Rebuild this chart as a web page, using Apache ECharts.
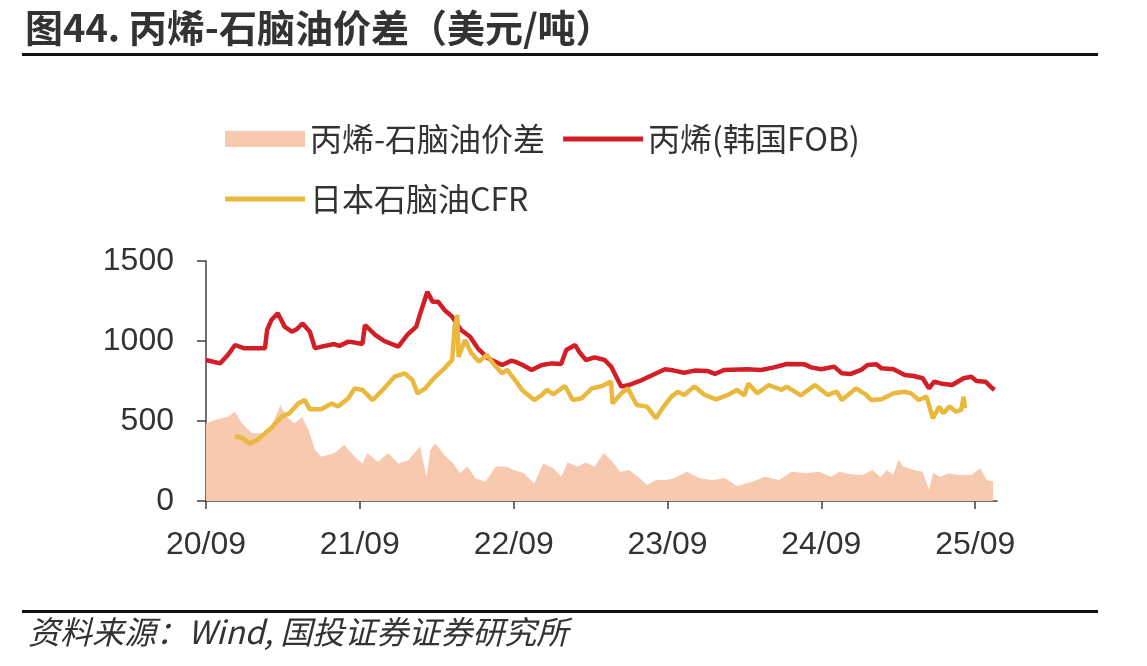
<!DOCTYPE html>
<html>
<head>
<meta charset="utf-8">
<script src="https://cdn.jsdelivr.net/npm/echarts@6/dist/echarts.min.js"></script>
<style>
html, body { margin: 0; padding: 0; background: #ffffff; }
#main { width: 1147px; height: 666px; }
</style>
</head>
<body>
<div id="main"></div>
<script>
// 丙烯(韩国FOB)
var propDates = ['2020-09-01','2020-10-04','2020-10-22','2020-11-09','2020-12-01','2021-01-19','2021-01-24','2021-02-04','2021-02-19','2021-03-05',
	'2021-03-22','2021-04-04','2021-04-17','2021-05-04','2021-05-16','2021-06-01','2021-07-01','2021-07-13','2021-08-04','2021-08-19',
	'2021-09-07','2021-09-13','2021-10-07','2021-10-28','2021-12-01','2021-12-22','2022-01-13','2022-01-25','2022-02-09','2022-02-21',
	'2022-03-04','2022-03-19','2022-04-07','2022-04-28','2022-05-19','2022-06-07','2022-07-01','2022-08-04','2022-08-25','2022-09-04',
	'2022-09-22','2022-10-13','2022-11-07','2022-12-01','2022-12-22','2023-01-04','2023-01-25','2023-02-04','2023-02-20','2023-03-10',
	'2023-04-04','2023-04-19','2023-05-01','2023-05-13','2023-06-01','2023-07-01','2023-08-01','2023-08-25','2023-09-16','2023-10-10',
	'2023-11-04','2023-12-04','2023-12-22','2024-01-13','2024-03-07','2024-04-10','2024-05-10','2024-06-10','2024-07-22','2024-08-07',
	'2024-09-01','2024-10-01','2024-10-19','2024-11-10','2024-12-04','2024-12-19','2025-01-10','2025-01-22','2025-02-20','2025-03-16',
	'2025-04-07','2025-04-28','2025-05-13','2025-05-25','2025-06-10','2025-07-07','2025-08-04','2025-08-22','2025-09-04','2025-09-25',
	'2025-10-07','2025-10-16'];
var propVals = [881,860,912,975,954,954,1069,1131,1173,1090,
	1058,1075,1110,1058,954,965,981,969,996,990,
	981,1100,1038,1000,965,1038,1090,1194,1308,1246,
	1246,1194,1152,1069,1027,954,892,850,877,871,
	850,819,850,860,856,944,975,933,881,898,
	881,840,777,715,725,756,794,823,815,802,
	815,813,794,819,823,819,835,856,854,835,
	823,840,798,794,819,850,854,829,823,788,
	781,767,704,746,735,725,767,777,750,746,
	715,694];

// 日本石脑油CFR
var naphDates = ['2020-11-09','2020-11-25','2020-12-13','2021-01-01','2021-01-19','2021-02-07','2021-02-28','2021-03-16','2021-04-07','2021-04-22',
	'2021-05-04','2021-06-01','2021-06-25','2021-07-10','2021-08-04','2021-08-19','2021-09-07','2021-10-01','2021-10-28','2021-11-22',
	'2021-12-16','2022-01-04','2022-01-16','2022-02-04','2022-02-24','2022-03-19','2022-04-07','2022-04-13','2022-04-19','2022-04-22',
	'2022-05-07','2022-05-22','2022-06-10','2022-06-28','2022-07-16','2022-08-04','2022-08-16','2022-09-04','2022-09-22','2022-10-19',
	'2022-11-07','2022-11-19','2022-12-04','2023-01-01','2023-01-19','2023-02-10','2023-03-04','2023-03-28','2023-04-19','2023-04-22',
	'2023-05-13','2023-05-28','2023-06-19','2023-07-13','2023-08-04','2023-08-19','2023-09-10','2023-09-25','2023-10-10','2023-11-04',
	'2023-11-28','2023-12-25','2024-01-22','2024-02-13','2024-03-01','2024-03-10','2024-04-01','2024-04-28','2024-05-28','2024-06-10',
	'2024-07-13','2024-08-16','2024-09-16','2024-10-07','2024-10-19','2024-11-22','2024-12-16','2024-12-28','2025-01-22','2025-02-20',
	'2025-03-16','2025-04-01','2025-04-19','2025-05-07','2025-05-22','2025-06-07','2025-06-16','2025-07-01','2025-07-16','2025-07-28',
	'2025-08-04','2025-08-07'];
var naphVals = [406,394,360,381,423,465,527,548,610,631,
	573,573,610,590,642,704,694,631,704,777,
	798,756,673,704,767,829,881,1090,1163,900,
	1006,923,871,913,850,798,819,756,690,631,
	663,694,667,719,631,642,704,719,746,610,
	673,704,600,590,517,579,652,683,663,715,
	663,635,663,694,660,735,673,725,694,715,
	660,725,663,683,631,704,663,631,636,673,
	683,673,631,652,517,590,548,590,558,569,
	652,579];

// 丙烯-石脑油价差
var spreadDates = ['2020-09-01','2020-09-22','2020-10-22','2020-11-09','2020-11-25','2020-12-19','2021-01-13','2021-02-04','2021-02-25','2021-03-10',
	'2021-03-28','2021-04-16','2021-05-04','2021-05-16','2021-06-01','2021-07-01','2021-07-25','2021-08-19','2021-09-07','2021-09-19',
	'2021-10-13','2021-11-07','2021-12-01','2021-12-25','2022-01-22','2022-02-07','2022-02-16','2022-02-28','2022-03-22','2022-04-10',
	'2022-04-25','2022-05-13','2022-06-01','2022-06-25','2022-07-19','2022-08-13','2022-09-04','2022-09-25','2022-10-19','2022-11-10',
	'2022-12-04','2022-12-22','2023-01-07','2023-02-01','2023-02-19','2023-03-10','2023-04-01','2023-04-19','2023-05-10','2023-06-01',
	'2023-06-22','2023-07-13','2023-08-04','2023-08-28','2023-09-16','2023-10-16','2023-11-16','2023-12-16','2024-01-16','2024-02-13',
	'2024-03-19','2024-04-19','2024-05-22','2024-06-22','2024-07-25','2024-08-25','2024-09-25','2024-10-13','2024-11-07','2024-12-07',
	'2025-01-01','2025-01-19','2025-02-04','2025-02-19','2025-03-01','2025-03-13','2025-04-07','2025-04-28','2025-05-13','2025-05-22',
	'2025-06-10','2025-06-28','2025-07-22','2025-08-22','2025-09-13','2025-09-28','2025-10-13'];
var spreadVals = [485,506,527,558,485,423,423,465,600,527,
	485,527,423,319,277,298,350,277,235,298,
	246,298,235,256,340,152,319,360,277,235,
	173,215,142,121,215,215,190,173,110,235,
	204,152,240,215,240,215,298,256,183,194,
	152,100,131,131,142,183,142,131,142,94,
	121,152,131,183,173,183,152,183,169,163,
	194,148,194,163,256,215,194,183,69,173,
	152,173,163,163,204,131,121];

var yTicks = [0, 500, 1000, 1500];
var xYearLabels = ['20/09', '21/09', '22/09', '23/09', '24/09', '25/09'];

// months since 2020-09-01
function toM(s) {
	var p = s.split('-');
	return (parseInt(p[0]) - 2020) * 12 + (parseInt(p[1]) - 9) + (parseInt(p[2]) - 1) / 30;
}
function pairs(dates, vals) {
	return dates.map(function (d, i) { return [toM(d), vals[i]]; });
}

var myChart = echarts.init(document.getElementById('main'));

var labelFont = 'Liberation Sans';
var cjkFont = 'Noto Sans CJK SC';
// flat bar used as legend icon for the two lines
var lineIcon = 'path://M0,0 L80,0 L80,5 L0,5 Z';

var option = {
	backgroundColor: '#ffffff',
	animation: false,
	title: {
		text: '图44. 丙烯-石脑油价差（美元/吨）',
		left: 20,
		top: 4,
		textStyle: { fontSize: 38, fontWeight: 'bold', color: '#333333', fontFamily: cjkFont }
	},
	legend: [{
		left: 220,
		top: 118,
		itemWidth: 80,
		itemHeight: 16,
		itemGap: 18,
		data: [{ name: '丙烯-石脑油价差', icon: 'rect' }, { name: '丙烯(韩国FOB)', icon: lineIcon }],
		textStyle: { fontSize: 32, color: '#333333', fontFamily: cjkFont }
	}, {
		left: 220,
		top: 178,
		itemWidth: 80,
		itemHeight: 16,
		data: [{ name: '日本石脑油CFR', icon: lineIcon }],
		textStyle: { fontSize: 32, color: '#333333', fontFamily: cjkFont }
	}],
	grid: { left: 206, right: 150, top: 261, bottom: 165 },
	xAxis: {
		type: 'value',
		min: 0,
		max: 61.7,
		interval: 12,
		axisLine: { lineStyle: { color: '#404040', width: 1.5 } },
		axisTick: { show: true, length: 8, lineStyle: { color: '#404040', width: 1.5 } },
		splitLine: { show: false },
		axisLabel: {
			margin: 28,
			showMaxLabel: false,
			fontSize: 32,
			color: '#333333',
			fontFamily: labelFont,
			formatter: function (v) { return xYearLabels[Math.round(v / 12)] || ''; }
		}
	},
	yAxis: {
		type: 'value',
		min: yTicks[0],
		max: yTicks[yTicks.length - 1],
		interval: 500,
		axisLine: { show: true, lineStyle: { color: '#404040', width: 1.5 } },
		axisTick: { show: true, length: 9, lineStyle: { color: '#404040', width: 1.5 } },
		splitLine: { show: false },
		axisLabel: {
			margin: 32, fontSize: 32, color: '#333333', fontFamily: labelFont,
			formatter: function (v) { return String(v); }
		}
	},
	series: [{
		name: '丙烯-石脑油价差',
		type: 'line',
		symbol: 'none',
		color: '#F7CAAF',
		lineStyle: { width: 0 },
		areaStyle: { color: '#F7CAAF', opacity: 1 },
		data: pairs(spreadDates, spreadVals)
	}, {
		name: '丙烯(韩国FOB)',
		type: 'line',
		symbol: 'none',
		color: '#D41E27',
		lineStyle: { width: 4.5, color: '#D41E27' },
		data: pairs(propDates, propVals)
	}, {
		name: '日本石脑油CFR',
		type: 'line',
		symbol: 'none',
		color: '#E9B83C',
		lineStyle: { width: 4.5, color: '#E9B83C' },
		data: pairs(naphDates, naphVals)
	}],
	graphic: [{
		type: 'rect',
		shape: { x: 22, y: 53, width: 1076, height: 3 },
		style: { fill: '#111111' }
	}, {
		type: 'rect',
		shape: { x: 22, y: 610, width: 1076, height: 3 },
		style: { fill: '#111111' }
	}, {
		type: 'text',
		left: 28,
		top: 616,
		style: {
			text: '资料来源：Wind, 国投证券证券研究所',
			font: 'italic 32px "Noto Sans CJK SC"',
			fill: '#333333'
		}
	}]
};

myChart.setOption(option);
</script>
</body>
</html>
